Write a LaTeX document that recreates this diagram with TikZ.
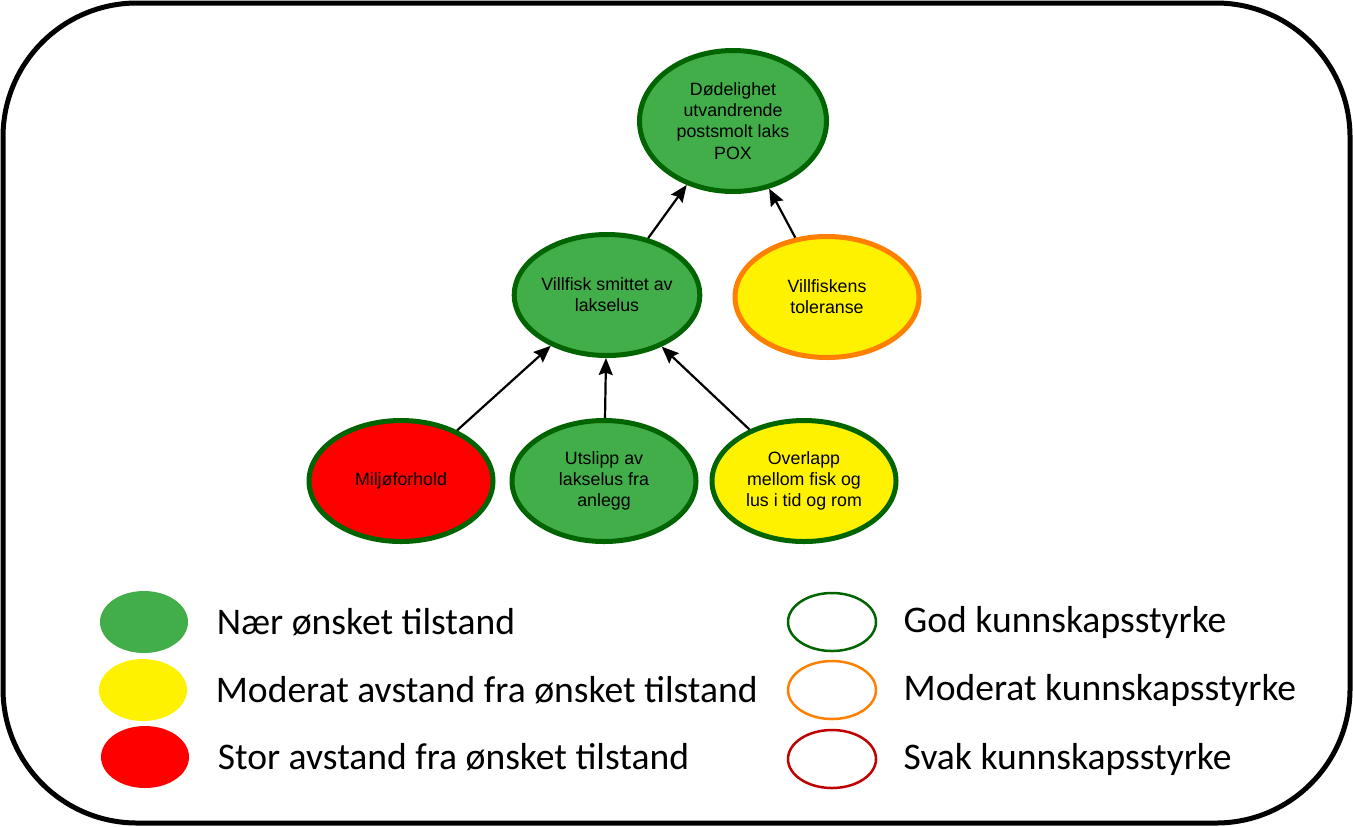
\documentclass[tikz,border=0pt]{standalone}
\usepackage{fontspec}
\setmainfont{Liberation Sans}
\newfontfamily\legendfont{Carlito}
\usetikzlibrary{positioning,shapes.geometric,arrows.meta}

\definecolor{naergreen}{RGB}{65,174,73}
\definecolor{rimgreen}{RGB}{0,100,0}
\definecolor{modyellow}{RGB}{255,242,0}
\definecolor{storred}{RGB}{255,0,0}
\definecolor{rimorange}{RGB}{255,128,0}
\definecolor{rimred}{RGB}{192,0,0}

\begin{document}
\begin{tikzpicture}[
    x=0.5pt, y=-0.5pt,
    >={Stealth[length=8.5pt,width=7pt,inset=1.2pt]},
    factor/.style={ellipse, draw=rimgreen, line width=2.5pt, minimum width=92pt, minimum height=60.5pt, inner sep=0pt, align=center, font=\fontsize{8.9}{10.6}\selectfont},
    arrow/.style={->, line width=1.1pt, draw=black},
    keyfill/.style={ellipse, draw=none, minimum width=44pt, minimum height=31pt, inner sep=0pt},
    keyrim/.style={ellipse, fill=white, line width=1.25pt, minimum width=44pt, minimum height=29pt, inner sep=0pt},
    legtext/.style={inner sep=0pt, anchor=west, font=\legendfont\fontsize{18.8}{22}\selectfont}
]
  \useasboundingbox (0,0) rectangle (1353,826);
  \draw[line width=2.5pt, rounded corners=67pt] (3,3) rectangle (1350,823);

  \node[factor, fill=naergreen, minimum width=93.5pt, minimum height=70.5pt] (pox) at (733,121) {D\o delighet\\utvandrende\\postsmolt laks\\POX};
  \node[factor, fill=naergreen] (smitte) at (607,295) {Villfisk smittet av\\lakselus};
  \node[factor, fill=modyellow, draw=rimorange] (toleranse) at (827,297) {Villfiskens\\toleranse};
  \node[factor, fill=storred] (miljo) at (401,481) {Milj\o forhold};
  \node[factor, fill=naergreen] (utslipp) at (604,481) {Utslipp av\\lakselus fra\\anlegg};
  \node[factor, fill=modyellow] (overlapp) at (804,481) {Overlapp\\mellom fisk og\\lus i tid og rom};

  \draw[arrow] (smitte) -- (pox);
  \draw[arrow] (toleranse) -- (pox);
  \draw[arrow] (miljo) -- (smitte);
  \draw[arrow] (utslipp) -- (smitte);
  \draw[arrow] (overlapp) -- (smitte);

  % Legend, state
  \node[keyfill, fill=naergreen] (k1) at (144,622) {};
  \node[keyfill, fill=modyellow] (k2) at (143,690) {};
  \node[keyfill, fill=storred] (k3) at (145,757) {};
  \node[legtext, right=14pt of k1] (t1) {Nær ønsket tilstand};
  \node[legtext, right=14pt of k2] (t2) {Moderat avstand fra ønsket tilstand};
  \node[legtext, right=14pt of k3] (t3) {Stor avstand fra ønsket tilstand};

  % Legend, knowledge
  \node[keyrim, draw=rimgreen] (r1) at (832,622) {};
  \node[keyrim, draw=rimorange] (r2) at (832,690) {};
  \node[keyrim, draw=rimred] (r3) at (832,759) {};
  \node[legtext, right=13pt of r1] (s1) {God kunnskapsstyrke};
  \node[legtext, right=13pt of r2] (s2) {Moderat kunnskapsstyrke};
  \node[legtext, right=13pt of r3] (s3) {Svak kunnskapsstyrke};
\end{tikzpicture}
\end{document}
